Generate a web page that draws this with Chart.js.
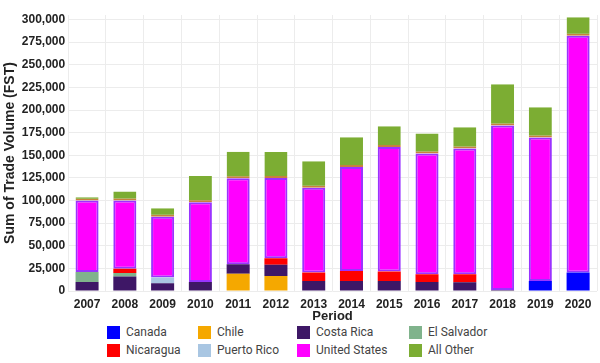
<!DOCTYPE html>
<html>
<head>
<meta charset="utf-8">
<script src="https://cdn.jsdelivr.net/npm/chart.js@4/dist/chart.umd.min.js"></script>
<style>
  html, body { margin: 0; padding: 0; background: #fff; }
  #wrap { position: relative; width: 600px; height: 363px; }
  #chart { position: absolute; left: 0; top: 0; }
  #legend { position: absolute; left: 0; top: 325px; width: 600px; height: 38px; font-family: Roboto, "Liberation Sans", sans-serif; font-size: 12px; color: #444; }
  .item { position: absolute; display: flex; align-items: center; height: 14px; }
  .sw { width: 13px; height: 13px; margin-right: 6px; box-sizing: border-box; }
</style>
</head>
<body>
<div id="wrap">
  <canvas id="chart" width="600" height="325"></canvas>
  <div id="legend"></div>
</div>
<script>
const years = ['2007', '2008', '2009', '2010', '2011', '2012', '2013', '2014', '2015', '2016', '2017', '2018', '2019', '2020'];

// values, stacked bottom to top
const canada     = [0, 0, 0, 0, 0, 0, 0, 0, 0, 0, 0, 0, 11000, 20400];
const chile      = [0, 0, 0, 0, 19000, 16700, 0, 0, 0, 0, 0, 0, 0, 0];
const costaRica  = [10000, 16000, 8500, 10000, 10500, 12200, 11100, 11000, 11000, 10000, 9600, 1000, 0, 0];
const elSalvador = [11000, 4000, 0, 0, 0, 0, 0, 0, 0, 0, 0, 0, 0, 0];
const nicaragua  = [0, 4500, 0, 0, 0, 7400, 9300, 11000, 10500, 8500, 8900, 0, 0, 0];
const puertoRico = [0, 0, 6500, 0, 0, 0, 0, 0, 0, 0, 0, 0, 0, 0];
const unitedStates = [79000, 75500, 67000, 88000, 95000, 88700, 93600, 115000, 137500, 133500, 139000, 182000, 158600, 261600];
const allOther   = [3700, 10000, 9500, 29000, 29500, 28700, 29300, 33000, 23000, 22000, 23500, 45500, 33400, 20600];

const yTicks = [0, 25000, 50000, 75000, 100000, 125000, 150000, 175000, 200000, 225000, 250000, 275000, 300000];

const series = [
  { label: 'Canada', data: canada, color: '#0000ff' },
  { label: 'Chile', data: chile, color: '#f5a800' },
  { label: 'Costa Rica', data: costaRica, color: '#3e1766' },
  { label: 'El Salvador', data: elSalvador, color: '#80b38c' },
  { label: 'Nicaragua', data: nicaragua, color: '#ff0000' },
  { label: 'Puerto Rico', data: puertoRico, color: '#a9c6e2' },
  { label: 'United States', data: unitedStates, color: '#ff00ff', edge: '#9a33ff', edgeWidth: 2 },
  { label: 'All Other', data: allOther, color: '#7cad33', edge: '#c8803c', edgeWidth: { bottom: 2 } },
];

const datasets = series.map((s) => ({
  label: s.label,
  data: s.data,
  backgroundColor: s.color,
  borderColor: s.edge || s.color,
  borderWidth: s.edgeWidth || 0,
  borderSkipped: false,
  barPercentage: 0.61,
  categoryPercentage: 1,
}));

const tickFont = { family: '"Liberation Sans", Arial, sans-serif', size: 12, weight: 'bold' };

const chart = new Chart('chart', {
  type: 'bar',
  data: { labels: years, datasets },
  options: {
    responsive: false,
    animation: false,
    layout: { padding: { left: 0, right: 3, top: 15, bottom: 1 } },
    plugins: {
      legend: { display: false },
      tooltip: { enabled: false },
    },
    scales: {
      x: {
        stacked: true,
        grid: { color: '#ececec', drawTicks: false, offset: true },
        border: { display: false },
        ticks: { color: '#222', font: tickFont, padding: 6 },
        title: { display: true, text: 'Period', color: '#222', font: { family: tickFont.family, size: 13, weight: 'bold' }, padding: { top: -9, bottom: 0 } },
      },
      y: {
        stacked: true,
        min: 0,
        max: 305000,
        afterBuildTicks: (scale) => {
          scale.ticks = yTicks.map((v) => ({ value: v }));
        },
        grid: { color: '#ececec', drawTicks: false },
        border: { display: false },
        ticks: {
          color: '#222',
          font: tickFont,
          padding: 3,
          callback: (v) => v.toLocaleString('en-US'),
        },
        title: { display: true, text: 'Sum of Trade Volume (FST)', color: '#222', font: { family: tickFont.family, size: 14, weight: 'bold' }, padding: { top: 2, bottom: 0 } },
      },
    },
  },
});

// legend laid out as a 4 x 2 grid under the chart
const colLeft = [107, 198, 297, 409];
const rowTop = [0, 18];
const legend = document.getElementById('legend');
chart.data.datasets.forEach((ds, i) => {
  const item = document.createElement('div');
  item.className = 'item';
  item.style.left = colLeft[i % 4] + 'px';
  item.style.top = rowTop[Math.floor(i / 4)] + 'px';
  const sw = document.createElement('div');
  sw.className = 'sw';
  sw.style.background = ds.backgroundColor;
  const txt = document.createElement('span');
  txt.textContent = ds.label;
  item.appendChild(sw);
  item.appendChild(txt);
  legend.appendChild(item);
});
</script>
</body>
</html>
